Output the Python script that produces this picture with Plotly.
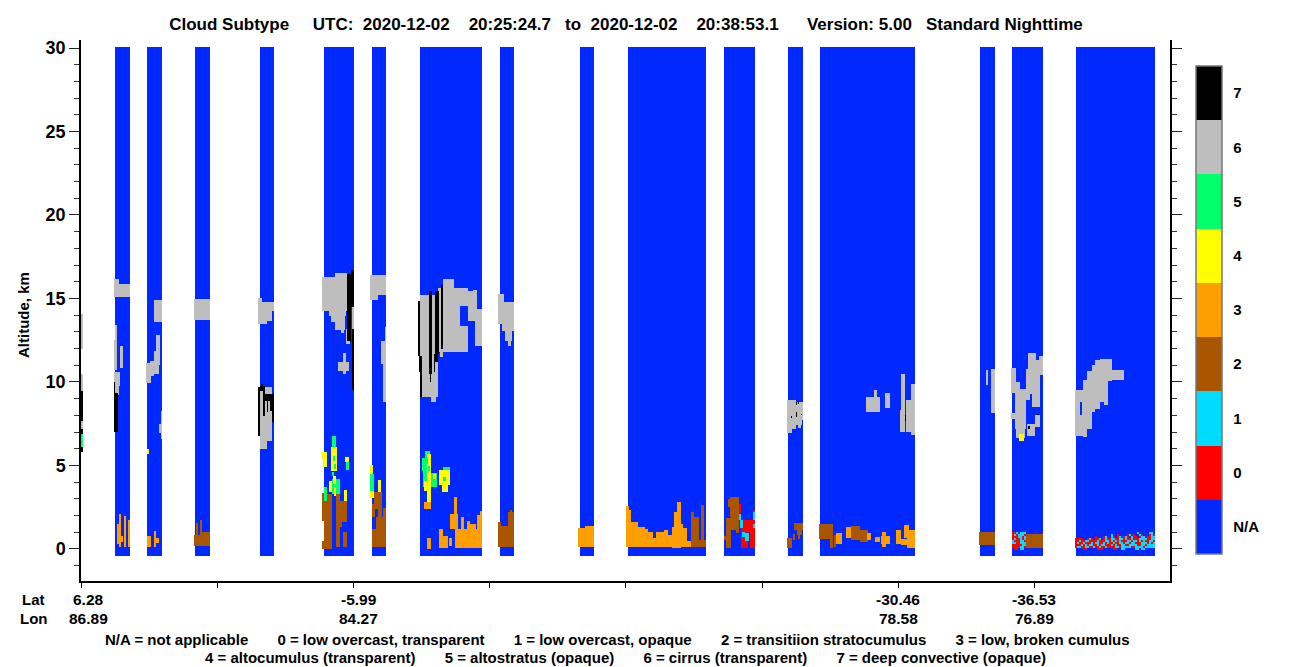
import numpy as np
import plotly.graph_objects as go

# ---- Data -----------------------------------------------------------------
# along-track position (profile units) and altitude in km
swaths = [(115, 130), (147, 162), (195, 210), (260, 274), (324, 354), (372, 386),
          (420, 482), (500, 514), (580, 594), (628, 706), (724, 755), (788, 803),
          (820, 915), (980, 995), (1012, 1043), (1076, 1155)]
curtain_top_km = 30.06
curtain_bottom_km = -0.42

# each patch: along-track from, along-track to, top km, bottom km
cirrus = [
    (81,83,14.1,12.0),(81,83,10.5,9.5),(81,83,7.7,7.2),
    (114,130,15.86,15.1),(114,119,16.16,15.86),(115,117,13.46,12.56),(114,117,12.56,10.76),
    (120,123,12.2,10.88),(114,120,10.64,9.8),(115,119,9.8,9.26),
    (154,162,14.96,13.64),(156,160,12.86,11.9),(154,160,11.9,11.06),(150,159,11.3,10.5),
    (146,154,11.18,10.4),(146,151,10.4,9.94),(161,162,8.3,6.6),(159,162,7.52,6.98),
    (194,210,15.02,13.76),
    (258,274,14.84,14.3),(258,262,15.08,14.84),(258,272,14.3,13.7),(258,267,13.7,13.48),
    (260,272,9.74,6.5),(260,267,6.5,6.02),
    (322,347,16.26,14.3),(335,347,16.5,16.26),(329,346,14.3,14.0),(331,345,14.0,13.6),
    (335,345,13.6,13.16),(341,344,13.16,12.94),(346,350,13.2,12.3),(352,354,14.5,13.2),
    (338,349,11.24,10.7),(343,346,11.78,10.52),
    (370,386,16.4,15.2),(370,378,15.2,14.96),(385,386,13.3,12.5),(381,386,12.5,11.1),(383,386,11.1,8.84),
    (420,438,15.2,9.1),(431,436,9.1,8.84),(438,468,15.6,11.8),(443,454,16.16,15.6),
    (468,475,15.4,13.7),(473,477,15.5,14.4),(475,482,14.4,12.2),(440,443,11.8,11.54),
    (498,504,15.26,13.5),(504,514,14.8,13.5),(502,514,13.5,13.1),(505,512,13.1,12.5),(508,511,12.5,12.2),
    (787,803,8.82,7.72),(787,796,8.96,7.22),(787,792,7.22,6.94),(796,802,7.72,7.42),(798,801,7.42,7.24),
    (866,880,9.12,8.22),(874,877,9.52,9.12),(885,890,9.34,8.48),(901,905,10.48,7.02),(900,905,8.32,7.02),
    (906,915,8.92,7.02),(911,915,9.92,6.82),
    (986,988,10.72,9.82),(991,995,10.78,8.16),
    (1011,1016,10.88,9.36),(1016,1020,10.02,9.32),(1015,1026,9.62,7.22),(1011,1016,8.16,7.78),
    (1016,1025,7.22,6.68),(1026,1040,10.82,9.32),(1028,1036,11.76,10.82),(1039,1043,11.56,10.42),
    (1036,1039,11.32,10.72),(1026,1030,9.32,8.92),(1032,1040,9.32,8.52),(1027,1035,7.52,6.76),(1035,1040,8.02,7.32),
    (1075,1083,9.52,6.76),(1083,1087,10.12,6.72),(1087,1092,10.66,7.22),(1092,1095,11.02,8.22),
    (1095,1100,11.32,8.42),(1100,1104,11.42,8.82),(1104,1108,11.38,8.62),(1108,1112,11.38,10.08),(1112,1124,10.72,10.12),
]
clear_notches = [(460,468,14.6,13.4),(1080,1082,8.82,8.06)]
deep_convective = [
    (81,83,9.5,7.7),(81,83,7.2,6.9),(81,83,6.1,5.8),
    (114,115,10.04,9.38),(114,118,9.38,7.04),
    (258,260,9.74,6.8),(260,265,9.8,9.5),(261,263,9.92,9.8),(263,265,9.5,8.0),(265,274,9.32,8.9),
    (267,268,9.3,8.2),(270,272,9.3,8.3),(272,274,9.3,7.64),
    (347,351,16.46,12.5),(351,354,16.7,14.5),(352,354,13.2,9.54),
    (418,420,14.9,11.6),(419,422,11.6,10.6),(420,422,10.6,9.1),(429,432,15.44,10.5),(430,431,10.5,10.0),
    (435,439,15.44,11.7),(434,438,11.7,11.2),(434,435,11.2,10.6),(441,443,15.8,12.0),
    (798,799,8.82,8.68),(796,797,8.82,8.62),(796,797,8.22,7.92),(791,792,7.98,7.84),(801,802,8.08,8.02),
    (905,906,8.02,7.68),(1037,1039,8.08,8.02),(1028,1030,7.36,7.22),
]
altostratus = [
    (81,83,6.9,6.1),
    (332,336,6.8,5.9),(323,327,5.54,5.36),(346,349,5.24,4.76),(332,340,4.2,3.3),(324,327,3.74,2.9),
    (370,374,4.5,3.1),(425,430,5.9,5.3),(422,431,5.46,4.7),(423,427,5.3,3.7),(431,437,4.58,3.7),(443,450,4.94,4.3),
]
altocumulus = [
    (147,149,6.02,5.72),
    (331,337,6.1,4.7),(333,336,4.4,3.9),(329,332,4.1,3.4),(334,336,3.7,3.2),(322,327,5.84,5.36),(323,327,5.36,4.9),
    (345,349,5.54,5.24),(344,347,3.56,2.9),(370,373,5.06,4.5),(370,374,3.5,3.08),(378,381,4.16,3.4),
    (427,431,5.7,2.8),(424,427,4.1,3.5),(433,436,4.5,4.2),(439,450,4.74,3.86),(442,448,3.86,3.44),
    (1019,1024,6.88,6.46),
]
altostratus_flecks = [
    (333,335,5.6,5.3),(334,336,5.1,4.8),(332,334,4.6,4.4),(426,428,5.5,5.1),(428,430,5.0,4.7),(443,446,4.3,4.1),
]
low_broken = [
    (119,121,2.12,0.1),(117,121,1.5,0.3),(124,126,2.0,0.1),(128,130,1.76,0.1),(121,123,0.8,0.4),
    (147,151,0.8,0.1),(154,156,1.1,0.14),(154,159,0.66,0.34),
    (424,431,2.84,2.42),(427,431,0.66,0.02),(439,443,1.22,0.08),(443,448,0.8,0.08),(449,452,0.66,0.2),
    (450,458,2.1,1.2),(454,457,3.14,1.9),(455,482,1.2,0.08),(461,464,1.94,1.2),(467,470,1.7,1.2),
    (470,476,1.5,1.2),(477,482,2.06,1.2),(480,482,2.3,2.06),
    (578,594,1.23,0.11),(585,594,1.37,1.23),
    (626,629,2.57,0.11),(629,631,2.33,0.11),(631,638,1.63,0.11),(638,645,1.33,0.11),(645,648,1.19,0.11),
    (648,653,1.03,0.11),(653,656,0.63,0.11),(656,664,0.99,0.11),(664,668,1.13,0.11),(668,672,0.83,0.11),
    (672,674,1.33,0.07),(674,677,2.23,0.07),(677,681,2.79,0.07),(681,683,1.53,0.11),(683,687,1.23,0.11),(687,691,0.49,0.11),
    (836,842,0.93,0.29),(846,851,1.33,0.67),(867,871,0.93,0.57),(875,880,0.71,0.39),(881,890,0.79,0.29),
    (882,886,1.03,0.11),(896,901,1.13,0.29),(901,907,0.59,0.23),(904,909,1.43,0.63),(907,915,1.17,0.05),
]
transition = [
    (194,210,0.86,0.2),(196,198,1.58,0.86),(200,202,1.76,0.86),(202,210,1.04,0.2),
    (322,327,3.38,1.7),(324,332,3.3,0.5),(322,332,0.5,0.02),(336,340,3.3,0.1),(340,347,2.9,1.6),
    (337,342,1.6,1.3),(343,347,1.04,0.1),
    (372,375,2.7,1.9),(374,382,3.44,2.4),(378,382,2.4,1.3),(372,386,1.2,0.1),(376,386,1.9,0.3),(383,386,2.46,0.1),
    (498,501,1.64,0.1),(501,508,1.36,0.1),(508,514,2.24,0.1),(510,512,2.36,2.24),
    (691,694,2.19,0.11),(694,699,1.93,0.11),(699,701,0.53,0.11),(701,704,2.63,0.11),(704,706,0.53,0.11),
    (728,730,2.99,2.53),(730,739,3.13,1.93),(726,731,1.83,0.07),(731,736,1.93,1.13),(736,739,1.93,0.93),(724,727,0.77,0.53),
    (787,792,0.65,0.07),(793,795,0.89,0.53),(794,803,1.57,1.13),(797,802,1.13,0.83),(798,800,0.83,0.59),
    (819,833,1.53,0.59),(830,833,0.59,0.07),(834,836,0.83,0.13),(851,860,1.37,0.57),(860,868,1.13,0.43),
    (979,995,1.02,0.22),(1026,1043,0.92,0.08),
]
low_opaque = [
    (739,741,2.13,1.73),(740,743,1.73,1.23),(745,749,0.93,0.49),(742,745,1.03,0.73),(753,755,2.23,1.77),(753,755,1.53,1.23),
]
low_transparent = [
    (739,741,2.73,2.13),(741,755,1.77,1.03),(741,748,1.03,0.07),(750,755,1.03,0.07),(753,755,2.33,2.23),
]
# speckled overcast rows, top row first: R = 0, C = 1, . = N/A
speckle_a_start = 1012
speckle_a_top_km = 1.0
speckle_a = ["RRC.CCC", "RCRCCCR", "RRRCCRC", "RCRRCRC", "CRRRCCR", "CCRRCCC", "RRRRRCC", "RRRRCCR", ".RR.CC."]
speckle_b_start = 1075
speckle_b_top_km = 1.02
speckle_b = [
    "...............................C.....CC.",
    "..................C..R....RC.R..CR...RCR",
    "..........R...RC..CR.RC.RCR.CRR.RCC.RRCC",
    "RRRR..RCR.RRC.RCRRCCRRCCRCRRCRRRCCCCRRCC",
    "RRCRRCCRRRRCRRRCCRCRCRCRRRCCRCCRCRCRRCCR",
    "RCRRCRRRCRCCRRCRCRRCRRCCRCCRCCRRRCCCRCRC",
    "RRRCRCRCCRRCRCCRRRCRCRRCCRRCCCCRRCCRCCCC",
    "RCCRRCCRRCRRCRRCRRRRCCRCCCCCRRCCCCRCCCCC",
    "....RR.....RRR.....RR..CC.....CC.CC.....",
]

class_labels = ["N/A", "0", "1", "2", "3", "4", "5", "6", "7"]
class_values = [-1, 0, 1, 2, 3, 4, 5, 6, 7]
class_colors = ["#0028FF", "#FF0000", "#00DCFF", "#AA5500", "#FF9E00", "#FFFF00", "#00FF6A", "#BEBEBE", "#000000"]

lat_labels = ["6.28", "-5.99", "-30.46", "-36.53"]
lon_labels = ["86.89", "84.27", "78.58", "76.89"]
label_profiles = [81.5, 353.7, 898.1, 1034.2]
label_shift = [7, 5, 0, 0]

title = "Cloud Subtype     UTC:  2020-12-02    20:25:24.7   to  2020-12-02    20:38:53.1      Version: 5.00   Standard Nighttime"
legend_line1 = "N/A = not applicable       0 = low overcast, transparent       1 = low overcast, opaque       2 = transitiion stratocumulus       3 = low, broken cumulus"
legend_line2 = "4 = altocumulus (transparent)       5 = altostratus (opaque)       6 = cirrus (transparent)       7 = deep convective (opaque)"

# ---- Build the curtain ----------------------------------------------------
X0, X1, DX = 80, 1170, 1.0
DY = 0.06
nx = int((X1 - X0) / DX)
ny = int(round((curtain_top_km - curtain_bottom_km) / DY))
z = np.full((ny, nx), np.nan)


def col(x):
    return int(round((x - X0) / DX))


def row(a):
    return int(round((a - curtain_bottom_km) / DY))


for a, b in swaths:
    z[:, col(a):col(b)] = -1


def paint(patches, value):
    for a, b, top, bot in patches:
        z[row(bot):row(top), col(a):col(b)] = value


paint(cirrus, 6)
paint(clear_notches, -1)
paint(deep_convective, 7)
paint(low_transparent, 0)
paint(low_opaque, 1)
paint(transition, 2)
paint(low_broken, 3)
paint(altostratus, 5)
paint(altocumulus, 4)
paint(altostratus_flecks, 5)


def paint_speckle(rows, start, top):
    for i, line in enumerate(rows):
        for j, ch in enumerate(line):
            if ch == ".":
                continue
            a = start + 2 * j
            hi = top - 0.12 * i
            z[row(hi - 0.12):row(hi), col(a):col(a + 2)] = 0 if ch == "R" else 1


paint_speckle(speckle_a, speckle_a_start, speckle_a_top_km)
paint_speckle(speckle_b, speckle_b_start, speckle_b_top_km)

# ---- Figure ---------------------------------------------------------------
colorscale = []
n = len(class_colors)
for i, c in enumerate(class_colors):
    colorscale += [[i / n, c], [(i + 1) / n, c]]

FONT = "Liberation Sans"
PW, PH = 1089, 541


def paper_x(px):
    return (px - 81) / PW


def paper_y(py):
    return (581 - py) / PH


fig = go.Figure(go.Heatmap(
    z=z, x0=X0 + DX / 2, dx=DX, y0=curtain_bottom_km + DY / 2, dy=DY,
    zmin=-1.5, zmax=7.5, colorscale=colorscale, zsmooth=False, hoverongaps=False,
    colorbar=dict(
        x=paper_x(1196), xanchor="left",
        y=paper_y(310), yanchor="middle",
        lenmode="pixels", len=488, thicknessmode="pixels", thickness=26,
        xpad=0, ypad=0, outlinecolor="#777777", outlinewidth=1.5,
        tickmode="array", tickvals=class_values, ticktext=[f"<b>{t}</b>" for t in class_labels],
        ticks="outside", ticklen=8, tickcolor="rgba(0,0,0,0)",
        tickfont=dict(family=FONT, size=15, color="black"),
    ),
))

ann = []


def text_paper(px, py, txt, size=15, **kw):
    return dict(x=paper_x(px), xref="paper", y=paper_y(py), yref="paper", text=f"<b>{txt}</b>",
                xanchor="center", yanchor="middle", showarrow=False,
                font=dict(family=FONT, size=size, color="black"), **kw)


for lat, lon, p, s in zip(lat_labels, lon_labels, label_profiles, label_shift):
    for txt, py in ((lat, 599), (lon, 618)):
        a = text_paper(0, py, txt, size=15.5)
        a.update(x=p, xref="x", xshift=s)
        ann.append(a)

for px, py, txt in [(33, 599, "Lat"), (34, 618, "Lon"), (617, 639, legend_line1), (625, 657, legend_line2)]:
    ann.append(text_paper(px, py, txt))
ann.append(text_paper(23, 315, "Altitude, km", textangle=-90))

# thin dark rules between the colour-bar blocks
shapes = []
for i in range(1, n):
    py = 554 - i * 488 / n
    shapes.append(dict(type="line", xref="paper", yref="paper", x0=paper_x(1196), x1=paper_x(1222),
                       y0=paper_y(py), y1=paper_y(py), line=dict(color="#444444", width=1)))

fig.update_layout(
    width=1300, height=667, autosize=False,
    margin=dict(l=81, r=130, t=40, b=86),
    paper_bgcolor="white", plot_bgcolor="white",
    font=dict(family=FONT, color="black"),
    title=dict(text=f"<b>{title}</b>", x=626 / 1300, xanchor="center", y=1 - 24 / 667, yanchor="middle",
               font=dict(family=FONT, size=17, color="black")),
    annotations=ann, shapes=shapes,
    xaxis=dict(range=[81, 1170], tick0=81.5, dtick=136.1, ticks="outside", ticklen=5, tickwidth=1,
               tickcolor="black", showline=True, linecolor="black", linewidth=1.5,
               showticklabels=False, showgrid=False, zeroline=False),
    yaxis=dict(range=[-1.92, 30.48], tick0=0, dtick=5, ticks="outside", ticklen=10, tickwidth=1,
               tickcolor="#222222", showline=True, linecolor="black", linewidth=1.5, mirror="allticks",
               minor=dict(dtick=1, ticks="outside", ticklen=5, tickcolor="#333333", tickwidth=1),
               showgrid=False, zeroline=False,
               tickfont=dict(family=FONT, size=18, color="black"),
               tickprefix="<b>", ticksuffix="</b>"),
)

fig.write_html("out.html", config={"displayModeBar": False},
               post_script="document.body.style.margin='0';")
